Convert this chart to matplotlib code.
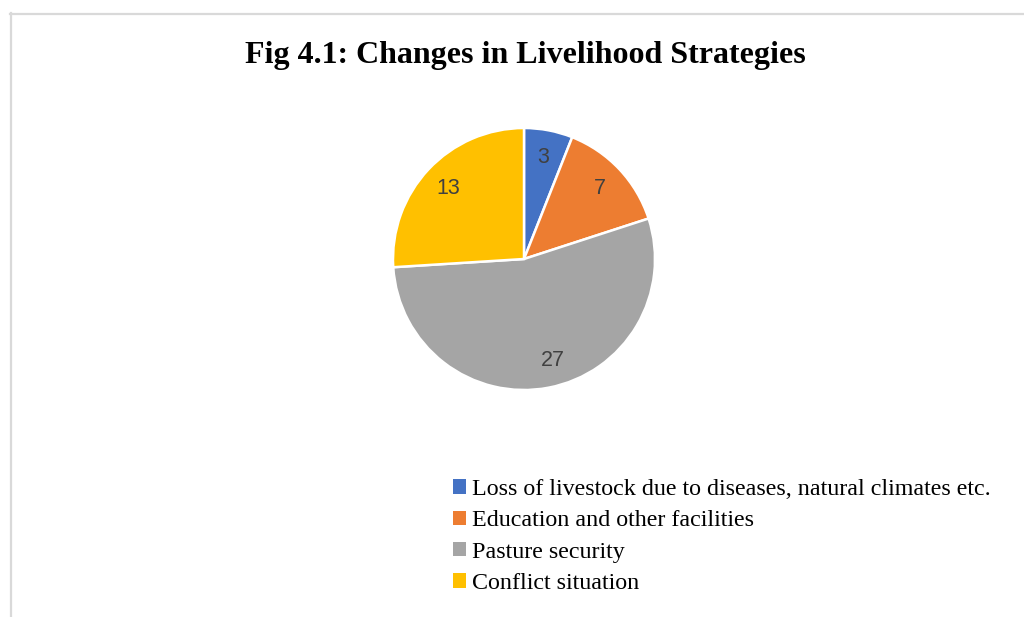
import matplotlib.pyplot as plt
from matplotlib.patches import Rectangle
from matplotlib.lines import Line2D

categories = [
    "Loss of livestock due to diseases, natural climates etc.",
    "Education and other facilities",
    "Pasture security",
    "Conflict situation",
]
values = [3, 7, 27, 13]
colors = ["#4472C4", "#ED7D31", "#A5A5A5", "#FFC000"]

W, H = 1024, 617
fig = plt.figure(figsize=(W / 100, H / 100), dpi=100)
fig.patch.set_facecolor("white")

# chart-area frame (only top and left edges are visible)
fig.add_artist(Line2D([11 / W, 11 / W], [0, 1 - 13 / H], transform=fig.transFigure,
                      color="#d9d9d9", lw=1.6))
fig.add_artist(Line2D([10 / W, 1], [1 - 14 / H, 1 - 14 / H], transform=fig.transFigure,
                      color="#d9d9d9", lw=1.6))

fig.text(525 / W, 1 - 56 / H, "Fig 4.1: Changes in Livelihood Strategies",
         ha="center", va="center", fontsize=23, fontweight="bold",
         family="Liberation Serif")

# pie area in pixel terms
cx, cy, r = 524, 259, 131
ax = fig.add_axes([(cx - r) / W, (H - cy - r) / H, 2 * r / W, 2 * r / H])
wedges, texts = ax.pie(values, colors=colors, startangle=90, counterclock=False,
                       labels=[str(v) for v in values], labeldistance=0.79,
                       wedgeprops=dict(edgecolor="white", linewidth=1.8),
                       textprops=dict(fontsize=15.5, color="#404040",
                                      family="Liberation Sans"))
for t in texts:
    t.set_ha("center")
    t.set_va("center")
# the big slice's label sits a little further round
x, y = texts[2].get_position()
texts[2].set_position((x + 0.07, y))
ax.set_xlim(-1, 1)
ax.set_ylim(-1, 1)
ax.set_aspect("equal")
ax.axis("off")

handles = [Rectangle((0, 0), 1, 1, facecolor=c, edgecolor="none") for c in colors]
fig.legend(handles, categories, loc="upper left",
           bbox_to_anchor=(453 / W, 1 - 479 / H), frameon=False,
           prop=dict(family="Liberation Serif", size=17.3),
           handlelength=0.55, handleheight=0.55, handletextpad=0.22,
           labelspacing=0.43, borderpad=0, borderaxespad=0)

fig.savefig("out.png", dpi=100)
